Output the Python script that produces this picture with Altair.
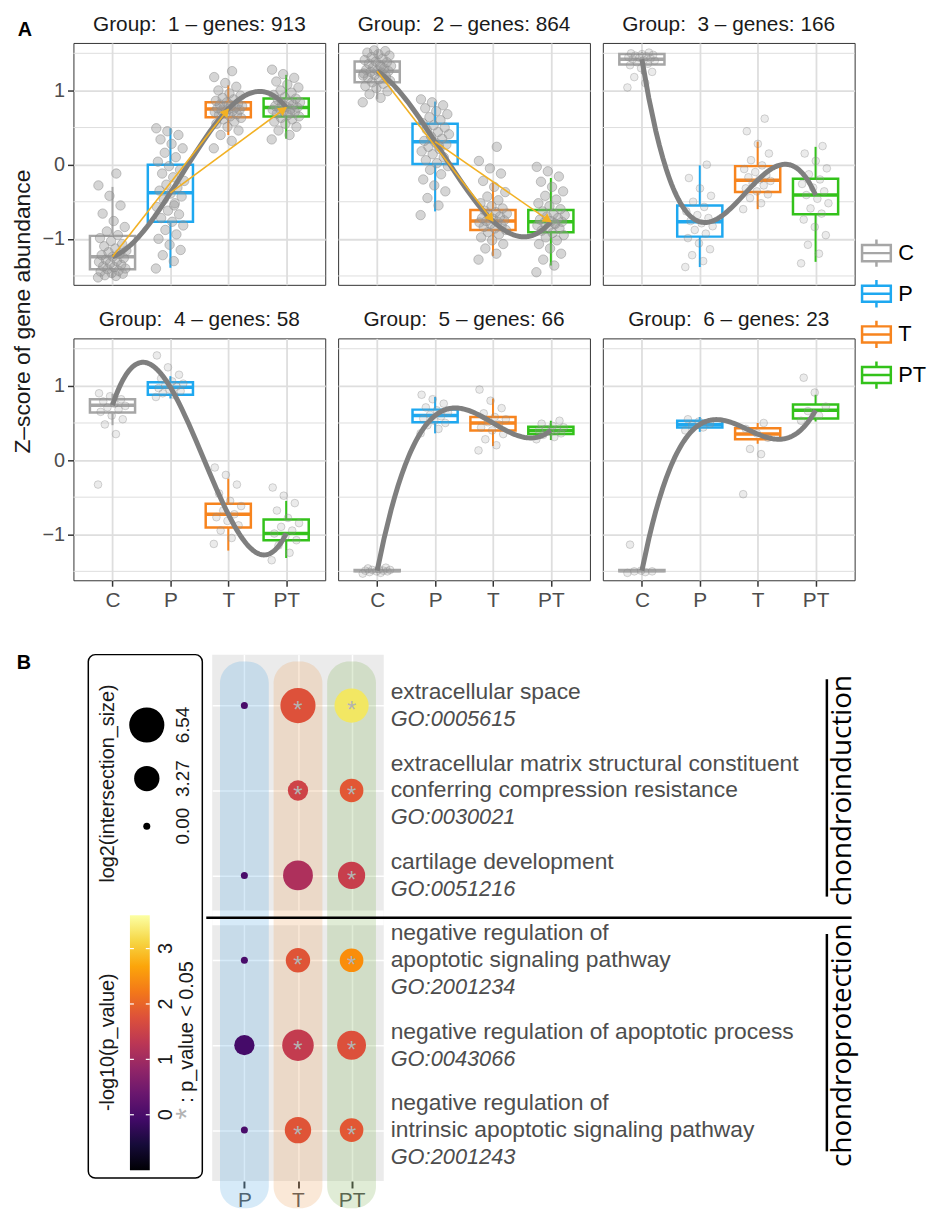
import altair as alt
import pandas as pd

FONT = "Liberation Sans"
TXT = "#4D4D4D"
GRID = "#DEDEDE"
ARROW = "#F2B124"

# ---------------- Panel A data ----------------
conditions = ["C", "P", "T", "PT"]
cond_colors = ["#A6A6A6", "#1EA8F0", "#F7841E", "#33C21A"]
group_genes = [913, 864, 166, 58, 66, 23]

# box statistics per condition (C, P, T, PT): lower whisker, Q1, median, Q3, upper whisker
box_g1 = [[-1.52, -1.41, -1.24, -0.96, -0.30], [-1.39, -0.77, -0.38, 0.00, 0.49],
          [0.40, 0.64, 0.75, 0.84, 1.07], [0.35, 0.65, 0.77, 0.89, 1.21]]
box_g2 = [[0.88, 1.11, 1.26, 1.39, 1.54], [-0.63, 0.01, 0.31, 0.55, 0.85],
          [-1.23, -0.88, -0.76, -0.61, -0.24], [-1.36, -0.91, -0.77, -0.61, -0.18]]
box_g3 = [[1.22, 1.35, 1.42, 1.49, 1.52], [-1.38, -0.97, -0.77, -0.55, -0.01],
          [-0.60, -0.37, -0.21, -0.02, 0.31], [-1.31, -0.67, -0.41, -0.19, 0.24]]
box_g4 = [[0.47, 0.64, 0.74, 0.82, 0.89], [0.83, 0.88, 0.98, 1.05, 1.13],
          [-1.22, -0.91, -0.73, -0.59, -0.25], [-1.32, -1.08, -0.99, -0.80, -0.55]]
box_g5 = [[-1.52, -1.50, -1.49, -1.48, -1.46], [0.36, 0.51, 0.60, 0.68, 0.85],
          [0.19, 0.40, 0.50, 0.58, 0.83], [0.27, 0.35, 0.40, 0.45, 0.53]]
box_g6 = [[-1.51, -1.50, -1.49, -1.48, -1.47], [0.38, 0.44, 0.48, 0.53, 0.58],
          [0.22, 0.28, 0.35, 0.43, 0.50], [0.52, 0.56, 0.67, 0.75, 0.88]]

# gene z-scores (estimated samples of each cloud)
g1_C = [-1.52, -1.50, -1.49, -1.47, -1.46, -1.44, -1.43, -1.41, -1.40, -1.38, -1.37, -1.35, -1.33, -1.31,
        -1.30, -1.28, -1.26, -1.24, -1.22, -1.20, -1.18, -1.16, -1.13, -1.10, -1.07, -1.03, -0.99, -0.95,
        -0.90, -0.84, -0.76, -0.66, -0.55, -0.42, -0.28, -0.12]
g1_P = [-1.40, -1.30, -1.22, -1.15, -1.08, -1.00, -0.94, -0.88, -0.82, -0.77, -0.72, -0.67, -0.62, -0.57,
        -0.52, -0.47, -0.43, -0.39, -0.35, -0.31, -0.27, -0.22, -0.17, -0.12, -0.07, -0.02, 0.04, 0.10,
        0.16, 0.22, 0.28, 0.34, 0.40, 0.45, 0.49, -0.55]
g1_T = [0.22, 0.32, 0.40, 0.46, 0.51, 0.55, 0.58, 0.61, 0.63, 0.65, 0.67, 0.68, 0.70, 0.71, 0.72, 0.73,
        0.74, 0.75, 0.76, 0.77, 0.78, 0.79, 0.80, 0.81, 0.82, 0.84, 0.86, 0.88, 0.90, 0.93, 0.96, 1.00,
        1.05, 1.10, 1.18, 1.26]
g1_PT = [0.34, 0.40, 0.46, 0.51, 0.55, 0.58, 0.61, 0.63, 0.65, 0.67, 0.69, 0.71, 0.72, 0.74, 0.75, 0.76,
         0.77, 0.78, 0.79, 0.81, 0.82, 0.84, 0.85, 0.87, 0.89, 0.91, 0.94, 0.97, 1.00, 1.04, 1.08, 1.12,
         1.17, 1.22, 1.28, 0.70]
g2_C = [0.84, 0.90, 0.95, 0.99, 1.03, 1.06, 1.09, 1.11, 1.13, 1.15, 1.17, 1.19, 1.21, 1.23, 1.24, 1.25,
        1.26, 1.27, 1.28, 1.30, 1.31, 1.33, 1.34, 1.36, 1.38, 1.39, 1.41, 1.43, 1.45, 1.47, 1.49, 1.51,
        1.53, 1.54, 1.20, 1.32]
g2_P = [-0.68, -0.55, -0.45, -0.36, -0.28, -0.20, -0.13, -0.07, -0.02, 0.02, 0.06, 0.10, 0.14, 0.18,
        0.21, 0.24, 0.27, 0.30, 0.32, 0.35, 0.38, 0.41, 0.44, 0.47, 0.50, 0.53, 0.56, 0.60, 0.64, 0.68,
        0.72, 0.76, 0.80, 0.84, 0.88, 0.25]
g2_T = [-1.28, -1.20, -1.13, -1.07, -1.02, -0.98, -0.94, -0.91, -0.88, -0.86, -0.84, -0.82, -0.80, -0.78,
        -0.77, -0.76, -0.75, -0.73, -0.72, -0.70, -0.68, -0.66, -0.64, -0.62, -0.59, -0.56, -0.52, -0.48,
        -0.43, -0.37, -0.30, -0.22, -0.12, -0.05, 0.05, 0.24]
g2_PT = [-1.45, -1.36, -1.28, -1.20, -1.13, -1.07, -1.02, -0.98, -0.95, -0.92, -0.89, -0.86, -0.84, -0.82,
         -0.80, -0.78, -0.77, -0.76, -0.74, -0.72, -0.70, -0.68, -0.66, -0.63, -0.60, -0.56, -0.52, -0.47,
         -0.42, -0.36, -0.30, -0.23, -0.16, -0.09, -0.03, -0.79]
g3_C = [1.04, 1.10, 1.18, 1.25, 1.30, 1.34, 1.36, 1.38, 1.40, 1.41, 1.42, 1.43, 1.44, 1.45, 1.46, 1.47,
        1.48, 1.49, 1.50, 1.51]
g3_P = [-1.38, -1.30, -1.22, -1.14, -1.06, -0.99, -0.93, -0.88, -0.83, -0.79, -0.76, -0.72, -0.68, -0.63,
        -0.57, -0.50, -0.42, -0.32, -0.18, 0.00]
g3_T = [-0.60, -0.52, -0.45, -0.40, -0.36, -0.32, -0.28, -0.25, -0.22, -0.20, -0.17, -0.14, -0.10, -0.06,
        -0.01, 0.06, 0.15, 0.28, 0.45, 0.62]
g3_PT = [-1.33, -1.20, -1.08, -0.95, -0.84, -0.74, -0.66, -0.59, -0.52, -0.46, -0.41, -0.36, -0.31, -0.26,
         -0.20, -0.13, -0.05, 0.05, 0.15, 0.25]
g4_C = [-0.33, 0.35, 0.48, 0.55, 0.60, 0.65, 0.68, 0.71, 0.73, 0.76, 0.79, 0.82, 0.86, 0.90]
g4_P = [0.85, 0.88, 0.90, 0.93, 0.95, 0.97, 0.99, 1.01, 1.03, 1.06, 1.10, 1.15, 1.25, 1.41]
g4_T = [-1.13, -1.05, -0.95, -0.88, -0.82, -0.77, -0.73, -0.68, -0.62, -0.55, -0.45, -0.33, -0.20, -0.10]
g4_PT = [-1.35, -1.25, -1.15, -1.08, -1.03, -0.99, -0.95, -0.90, -0.85, -0.78, -0.68, -0.58, -0.48, -0.37]
g5_C = [-1.53, -1.52, -1.51, -1.50, -1.50, -1.49, -1.49, -1.48, -1.48, -1.47, -1.46, -1.45]
g5_P = [0.36, 0.42, 0.47, 0.50, 0.53, 0.56, 0.59, 0.61, 0.64, 0.67, 0.71, 0.76, 0.82, 0.88]
g5_T = [0.13, 0.20, 0.28, 0.35, 0.40, 0.44, 0.48, 0.51, 0.55, 0.58, 0.63, 0.70, 0.80, 0.95]
g5_PT = [0.28, 0.31, 0.34, 0.36, 0.38, 0.40, 0.41, 0.42, 0.44, 0.46, 0.49, 0.53]
g6_C = [-1.52, -1.51, -1.50, -1.50, -1.49, -1.14]
g6_P = [0.40, 0.44, 0.47, 0.49, 0.52, 0.55]
g6_T = [-0.46, 0.08, 0.15, 0.30, 0.36, 0.42, 0.50]
g6_PT = [0.53, 0.60, 0.66, 0.72, 0.91, 1.11]

arrow_groups = [1, 2]
arrow_from = ["C", "P"]
arrow_to = ["T", "PT"]

BOXES = [box_g1, box_g2, box_g3, box_g4, box_g5, box_g6]
POINTS = [[g1_C, g1_P, g1_T, g1_PT], [g2_C, g2_P, g2_T, g2_PT], [g3_C, g3_P, g3_T, g3_PT],
          [g4_C, g4_P, g4_T, g4_PT], [g5_C, g5_P, g5_T, g5_PT], [g6_C, g6_P, g6_T, g6_PT]]

# ---------------- Panel B data ----------------
term_names = ["extracellular space",
              "extracellular matrix structural constituent\nconferring compression resistance",
              "cartilage development",
              "negative regulation of\napoptotic signaling pathway",
              "negative regulation of apoptotic process",
              "negative regulation of\nintrinsic apoptotic signaling pathway"]
term_go = ["GO:0005615", "GO:0030021", "GO:0051216", "GO:2001234", "GO:0043066", "GO:2001243"]
term_sets = ["chondroinduction", "chondroprotection"]
term_set_first = [0, 3]
term_set_last = [2, 5]
b_cols = ["P", "T", "PT"]
b_band_colors = ["#5BABE3", "#EBA35F", "#83B35B"]
dot_term = [0, 0, 0, 1, 1, 2, 2, 2, 3, 3, 3, 4, 4, 4, 5, 5, 5]
dot_col = ["P", "T", "PT", "T", "PT", "P", "T", "PT", "P", "T", "PT", "P", "T", "PT", "P", "T", "PT"]
dot_log2_size = [0.0, 6.54, 6.17, 2.0, 2.81, 0.0, 4.64, 3.81, 0.0, 3.0, 2.81, 2.0, 5.21, 4.32, 0.0, 3.58, 2.81]
dot_neglog10_p = [0.0, 1.76, 3.3, 1.55, 1.85, 0.0, 1.15, 1.45, 0.0, 1.8, 2.45, -0.05, 1.4, 1.75, 0.0, 1.8, 1.85]
size_legend_values = [6.54, 3.27, 0.0]
color_legend_ticks = [0, 1, 2, 3]
P_DOMAIN = [-1.0, 3.6]
SIG = 1.30103  # -log10(0.05)

# ---------------- Panel A construction ----------------
W, H = 254, 244
XS = alt.Scale(domain=[-0.675, 3.675], nice=False, zero=False)
YS = alt.Scale(domain=[-1.62, 1.64], nice=False, zero=False)
PXX = W / 4.35
PXY = H / 3.26
MINOR_Y = [-1.5, -0.5, 0.5, 1.5]

LEG = alt.Legend(title=None, orient="none", legendX=794, legendY=196,
                 symbolType="M-1,-0.56H1V0.56H-1Z M-1,0H1 M0,-0.56V-0.95 M0,0.56V0.95",
                 symbolSize=841, symbolStrokeWidth=2.5, symbolFillColor="white",
                 labelFontSize=22, labelFont=FONT, labelColor="black",
                 rowPadding=3, labelOffset=6, padding=0)
STROKE_SCALE = alt.Scale(domain=conditions, range=cond_colors)


def x_axis(show):
    return alt.Axis(values=[0, 1, 2, 3], labelExpr="['C','P','T','PT'][datum.value]",
                    labels=show, ticks=show, domain=False, title=None, grid=True,
                    gridColor=GRID, gridWidth=1.8, labelFont=FONT, labelFontSize=21,
                    labelColor=TXT, tickColor="#333333", tickWidth=1.5, tickSize=6, labelPadding=3)


def y_axis(show):
    return alt.Axis(values=[-1, 0, 1], format="d", labels=show, ticks=show, domain=False,
                    title=None, grid=True, gridColor=GRID, gridWidth=1.8,
                    labelFont=FONT, labelFontSize=20, labelColor=TXT, tickColor="#333333",
                    tickWidth=1.5, tickSize=6, labelPadding=3)


def panel(gi, show_x, show_y):
    box = BOXES[gi]
    bdf = pd.DataFrame({
        "cond": conditions, "ci": list(range(4)), "hex": cond_colors,
        "lo": [b[0] for b in box], "q1": [b[1] for b in box], "med": [b[2] for b in box],
        "q3": [b[3] for b in box], "hi": [b[4] for b in box]})
    rows = []
    for ci, vals in enumerate(POINTS[gi]):
        for k, v in enumerate(vals):
            rows.append({"ci": ci, "y": v, "idx": k})
    pdf = pd.DataFrame(rows)
    dense = group_genes[gi] > 500

    def X(f):
        return alt.X(f, scale=XS, axis=x_axis(show_x))

    def Y(f):
        return alt.Y(f, scale=YS, axis=y_axis(show_y))

    minor = alt.Chart(pd.DataFrame({"v": MINOR_Y})).mark_rule(color=GRID, strokeWidth=1).encode(
        y=Y("v:Q"), x=alt.value(0), x2=alt.value(W))
    whisk = alt.Chart(bdf).mark_rule(strokeWidth=2).encode(
        x=X("ci:Q"), y=Y("lo:Q"), y2="hi:Q", color=alt.Color("hex:N", scale=None))
    boxes = alt.Chart(bdf).transform_calculate(
        x0="datum.ci - 0.39", x1="datum.ci + 0.39").mark_rect(fill="white", strokeWidth=2.5).encode(
        x=X("x0:Q"), x2="x1:Q", y=Y("q1:Q"), y2="q3:Q",
        stroke=alt.Stroke("cond:N", scale=STROKE_SCALE, legend=LEG))
    med = alt.Chart(bdf).transform_calculate(
        x0="datum.ci - 0.39", x1="datum.ci + 0.39").mark_rule(strokeWidth=3.5).encode(
        x=X("x0:Q"), x2="x1:Q", y=Y("med:Q"), color=alt.Color("hex:N", scale=None))
    pts = alt.Chart(pdf).transform_calculate(
        jx="datum.ci + ((datum.idx * 0.618034) % 1 - 0.5) * 0.5").mark_circle(
        size=90 if dense else 60, color="#9C9C9C", opacity=1,
        fillOpacity=0.42 if dense else 0.2, stroke="#8A8A8A",
        strokeWidth=0.9, strokeOpacity=0.55 if dense else 0.4).encode(x=X("jx:Q"), y=Y("y:Q"))
    curve = alt.Chart(bdf).transform_regression(
        "ci", "med", method="poly", order=3, extent=[0, 3]).mark_line(
        color="#7F7F7F", strokeWidth=5).encode(x=X("ci:Q"), y=Y("med:Q"))
    layers = [minor, whisk, boxes, med, pts, curve]

    if (gi + 1) in arrow_groups:
        meds = dict(zip(conditions, [b[2] for b in box]))
        adf = pd.DataFrame({
            "x0": [conditions.index(c) for c in arrow_from], "y0": [meds[c] for c in arrow_from],
            "x1": [conditions.index(c) for c in arrow_to], "y1": [meds[c] for c in arrow_to]})
        lines = alt.Chart(adf).mark_rule(color=ARROW, strokeWidth=1.6).encode(
            x=X("x0:Q"), y=Y("y0:Q"), x2="x1:Q", y2="y1:Q")
        L = f"sqrt(pow((datum.x1-datum.x0)*{PXX},2)+pow((datum.y1-datum.y0)*{PXY},2))"
        heads = alt.Chart(adf).transform_calculate(
            ang=f"(atan2((datum.x1-datum.x0)*{PXX}, (datum.y1-datum.y0)*{PXY})*180/PI + 360) % 360",
            hx=f"datum.x1 - 5/{L}*(datum.x1-datum.x0)",
            hy=f"datum.y1 - 5/{L}*(datum.y1-datum.y0)").mark_point(
            shape="triangle", filled=True, size=100, color=ARROW, opacity=1).encode(
            x=X("hx:Q"), y=Y("hy:Q"), angle=alt.Angle("ang:Q", scale=None))
        layers += [lines, heads]

    title = f"Group:\u00a0 {gi + 1} – genes: {group_genes[gi]}"
    ttl = alt.Chart(pd.DataFrame({"t": [title]})).mark_text(
        fontSize=21, font=FONT, color="#1A1A1A", baseline="middle").encode(
        x=alt.value(W / 2), y=alt.value(-18), text="t:N")
    layers.append(ttl)

    if gi == 0:
        lab = alt.Chart(pd.DataFrame({"t": ["A"]})).mark_text(
            fontSize=20, fontWeight="bold", font=FONT, color="black").encode(
            x=alt.value(-49), y=alt.value(-13), text="t:N")
        ytitle = alt.Chart(pd.DataFrame({"t": ["Z–score of gene abundance"]})).mark_text(
            fontSize=23, font=FONT, angle=270, color="#1A1A1A").encode(
            x=alt.value(-51), y=alt.value(271), text="t:N")
        layers += [lab, ytitle]

    return alt.layer(*layers).properties(
        width=W, height=H,
        view=alt.ViewBackground(stroke="#333333", strokeWidth=1, fill="white"))


partA = alt.concat(panel(0, False, True), panel(1, False, False), panel(2, False, False),
                   panel(3, True, True), panel(4, True, False), panel(5, True, False),
                   columns=3, spacing={"row": 54, "column": 13}, bounds="flush")

# ---------------- Panel B construction ----------------
BW, BH = 173, 531
ROW_PX = BH / 6.2
LINE_PX = 27
XB = alt.Scale(domain=[-0.6, 2.6], nice=False, zero=False)
YB = alt.Scale(domain=[-0.6, 5.6], nice=False, zero=False, reverse=True)
SIZE_SCALE = alt.Scale(domain=[0, 6.54], range=[50, 1257], zero=False)
FILL_SCALE = alt.Scale(scheme="inferno", domain=P_DOMAIN)

xb_axis = alt.Axis(values=[0, 1, 2], labelExpr="['P','T','PT'][datum.value]", domain=False,
                   title=None, grid=True, gridColor="white", gridWidth=1.5, labelFont=FONT,
                   labelFontSize=21, labelColor=TXT, tickColor="#333333", tickWidth=2,
                   tickSize=7, labelPadding=2)
yb_axis = alt.Axis(values=[0, 1, 2, 3, 4, 5], labels=False, ticks=False, domain=False,
                   title=None, grid=True, gridColor="white", gridWidth=1.5)


def XBf(f):
    return alt.X(f, scale=XB, axis=xb_axis)


def YBf(f):
    return alt.Y(f, scale=YB, axis=yb_axis)


dot_df = pd.DataFrame({"term": dot_term, "ci": [b_cols.index(c) for c in dot_col],
                       "lsize": dot_log2_size, "nlp": dot_neglog10_p})
band_df = pd.DataFrame({"ci": list(range(3)), "hex": b_band_colors})
sep_df = pd.DataFrame({"pos": [term_set_last[0] + 0.5]})
set_df = pd.DataFrame({"name": term_sets, "first": term_set_first, "last": term_set_last})
line_rows = []
for t, (name, go) in enumerate(zip(term_names, term_go)):
    parts = name.split("\n") + [go]
    n = len(parts)
    for k, s in enumerate(parts):
        line_rows.append({"term": t, "line": s, "k": k - (n - 1) / 2, "is_go": k == n - 1})
line_df = pd.DataFrame(line_rows)

sep_white = alt.Chart(sep_df).mark_rule(color="white", strokeWidth=15).encode(
    y=YBf("pos:Q"), x=alt.value(0), x2=alt.value(BW))
bands = alt.Chart(band_df).transform_calculate(
    b0="datum.ci - 0.455", b1="datum.ci + 0.455", top="-0.52", bot="5.92").mark_rect(
    cornerRadius=22, opacity=0.25).encode(
    x=XBf("b0:Q"), x2="b1:Q", y=YBf("top:Q"), y2="bot:Q", color=alt.Color("hex:N", scale=None))
dots = alt.Chart(dot_df).mark_circle(opacity=1).encode(
    x=XBf("ci:Q"), y=YBf("term:Q"),
    size=alt.Size("lsize:Q", scale=SIZE_SCALE, legend=None),
    fill=alt.Fill("nlp:Q", scale=FILL_SCALE, legend=None))
stars = alt.Chart(dot_df).transform_filter(f"datum.nlp > {SIG}").mark_text(
    text="*", fontSize=24, color="#B3B3B3", baseline="middle", dy=6, font=FONT).encode(
    x=XBf("ci:Q"), y=YBf("term:Q"))
lines_base = alt.Chart(line_df).transform_calculate(ly=f"datum.term + datum.k * {LINE_PX} / {ROW_PX}")
names = lines_base.transform_filter("!datum.is_go").mark_text(
    align="left", baseline="middle", fontSize=23, font=FONT, color=TXT).encode(
    x=alt.value(180), y=YBf("ly:Q"), text="line:N")
gos = lines_base.transform_filter("datum.is_go").mark_text(
    align="left", baseline="middle", fontSize=22, font=FONT, fontStyle="italic", color=TXT).encode(
    x=alt.value(180), y=YBf("ly:Q"), text="line:N")
sep_black = alt.Chart(sep_df).mark_rule(color="black", strokeWidth=2.5).encode(
    y=YBf("pos:Q"), x=alt.value(-6), x2=alt.value(645))
set_lines = alt.Chart(set_df).transform_calculate(
    y0="datum.first - 0.31", y1="datum.last + 0.25").mark_rule(
    color="black", strokeWidth=2.5).encode(x=alt.value(620), y=YBf("y0:Q"), y2="y1:Q")
set_labels = alt.Chart(set_df).transform_calculate(
    mid="(datum.first + datum.last) / 2").mark_text(
    angle=270, fontSize=28, font="Open Sans", color="black", baseline="middle").encode(
    x=alt.value(636), y=YBf("mid:Q"), text="name:N")

dotB = alt.layer(sep_white, bands, dots, stars, names, gos, sep_black, set_lines, set_labels).properties(
    width=BW, height=BH, view=alt.ViewBackground(fill="#EBEBEB", strokeWidth=0))

# legend panel for B
LW, LH = 130, 531
LYS = alt.Scale(domain=[0, LH], nice=False, zero=False, reverse=True)
CB_TOP, CB_BOT = 263, 520
size_key_y = [71, 125, 173]


def ly(f):
    return alt.Y(f, scale=LYS, axis=None)


one = pd.DataFrame({"k": [0]})
inferno = ["#000004", "#160b39", "#420a68", "#6a176e", "#932667", "#bc3754",
           "#dd513a", "#f37819", "#fca50a", "#f6d746", "#fcffa4"]
grad = alt.LinearGradient(gradient="linear", x1=0, x2=0, y1=1, y2=0,
                          stops=[alt.GradientStop(color=c, offset=i / 10) for i, c in enumerate(inferno)])

leg_box = alt.Chart(one).mark_rect(fillOpacity=0, stroke="black", strokeWidth=1.5, cornerRadius=7).encode(
    x=alt.value(15), x2=alt.value(130), y=alt.value(0), y2=alt.value(528))
b_label = alt.Chart(pd.DataFrame({"t": ["B"]})).mark_text(
    fontSize=20, fontWeight="bold", font=FONT, color="black").encode(
    x=alt.value(-50), y=alt.value(9), text="t:N")
sl_df = pd.DataFrame({"v": size_legend_values, "ky": size_key_y})
size_circles = alt.Chart(sl_df).mark_circle(color="black", opacity=1).encode(
    x=alt.value(74), y=ly("ky:Q"), size=alt.Size("v:Q", scale=SIZE_SCALE, legend=None))
size_labels = alt.Chart(sl_df).mark_text(angle=270, fontSize=19, font=FONT, color="#1A1A1A").encode(
    x=alt.value(111), y=ly("ky:Q"), text=alt.Text("v:Q", format=".2f"))
size_title = alt.Chart(pd.DataFrame({"t": ["log2(intersection_size)"]})).mark_text(
    angle=270, fontSize=20, font=FONT, color="#1A1A1A").encode(
    x=alt.value(35), y=alt.value(130), text="t:N")
cbar = alt.Chart(one).mark_rect(fill=grad).encode(
    x=alt.value(57), x2=alt.value(77), y=alt.value(CB_TOP), y2=alt.value(CB_BOT))
ct = alt.Chart(pd.DataFrame({"v": color_legend_ticks})).transform_calculate(
    ty=f"{CB_BOT} - (datum.v - ({P_DOMAIN[0]})) / ({P_DOMAIN[1]} - ({P_DOMAIN[0]})) * {CB_BOT - CB_TOP}")
ct_l = ct.mark_rule(color="white", strokeWidth=1.2).encode(x=alt.value(57), x2=alt.value(61), y=ly("ty:Q"))
ct_r = ct.mark_rule(color="white", strokeWidth=1.2).encode(x=alt.value(73), x2=alt.value(77), y=ly("ty:Q"))
ct_lab = ct.mark_text(angle=270, fontSize=20, font=FONT, color="#1A1A1A").encode(
    x=alt.value(93), y=ly("ty:Q"), text="v:N")
c_title = alt.Chart(pd.DataFrame({"t": ["-log10(p_value)"]})).mark_text(
    angle=270, fontSize=20, font=FONT, color="#1A1A1A").encode(
    x=alt.value(35), y=alt.value(391), text="t:N")
star_key = alt.Chart(pd.DataFrame({"t": ["*"]})).mark_text(
    angle=270, fontSize=30, font=FONT, color="#B3B3B3", baseline="middle").encode(
    x=alt.value(115), y=alt.value(463), text="t:N")
star_txt = alt.Chart(pd.DataFrame({"t": [": p_value < 0.05"]})).mark_text(
    angle=270, fontSize=20, font=FONT, color="#1A1A1A", align="left", baseline="middle").encode(
    x=alt.value(115), y=alt.value(452), text="t:N")

legB = alt.layer(leg_box, b_label, size_circles, size_labels, size_title, cbar, ct_l, ct_r,
                 ct_lab, c_title, star_key, star_txt).properties(
    width=LW, height=LH, view=alt.ViewBackground(strokeWidth=0))

partB = alt.hconcat(legB, dotB, spacing=10, bounds="flush")

chart = alt.vconcat(partA, partB, spacing=43).properties(
    padding={"left": 3, "top": 0, "right": 0, "bottom": 0}).configure(font=FONT)

chart.save("out.html", embed_options={"renderer": "svg", "actions": False})
